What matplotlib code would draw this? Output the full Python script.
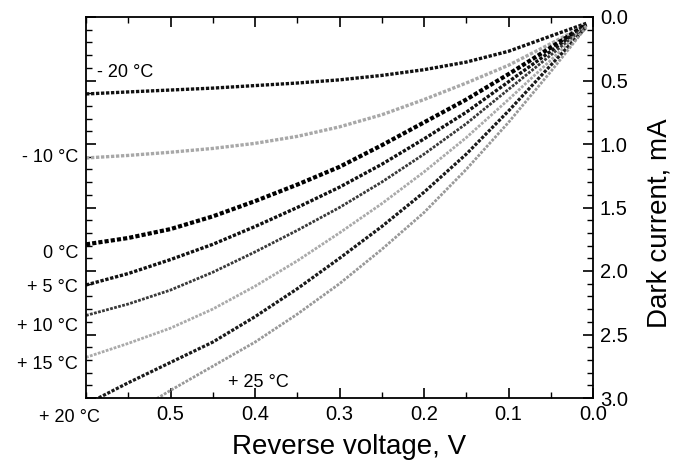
import matplotlib
matplotlib.use("Agg")
import matplotlib.pyplot as plt
from matplotlib.ticker import MultipleLocator

plt.rcParams['font.family'] = ['Liberation Sans', 'DejaVu Sans']

# Reverse voltage (V)
voltage = [0.60, 0.55, 0.50, 0.45, 0.40, 0.35, 0.30, 0.25, 0.20, 0.15, 0.10, 0.05, 0.008]

# Dark current (mA) for each temperature
i_m20 = [0.606, 0.59, 0.575, 0.56, 0.54, 0.52, 0.495, 0.46, 0.415, 0.355, 0.27, 0.15, 0.05]
i_m10 = [1.11, 1.09, 1.065, 1.035, 0.995, 0.94, 0.865, 0.77, 0.65, 0.52, 0.38, 0.21, 0.06]
i_0 = [1.79, 1.74, 1.67, 1.57, 1.45, 1.32, 1.18, 1.01, 0.83, 0.65, 0.45, 0.24, 0.06]
i_p5 = [2.11, 2.02, 1.91, 1.79, 1.65, 1.50, 1.34, 1.16, 0.96, 0.75, 0.51, 0.27, 0.06]
i_p10 = [2.35, 2.26, 2.15, 2.01, 1.85, 1.68, 1.50, 1.30, 1.08, 0.84, 0.57, 0.30, 0.07]
i_p15 = [2.68, 2.57, 2.45, 2.30, 2.12, 1.92, 1.70, 1.47, 1.22, 0.95, 0.65, 0.34, 0.07]
i_p20 = [3.05, 2.88, 2.72, 2.56, 2.36, 2.14, 1.90, 1.65, 1.38, 1.08, 0.74, 0.38, 0.08]
i_p25 = [3.35, 3.14, 2.94, 2.75, 2.56, 2.34, 2.10, 1.83, 1.54, 1.20, 0.83, 0.43, 0.08]

series = [i_m20, i_m10, i_0, i_p5, i_p10, i_p15, i_p20, i_p25]
colors = ['#111111', '#a8a8a8', '#000000', '#111111', '#3a3a3a', '#aaaaaa', '#1a1a1a', '#999999']
widths = [2.4, 2.4, 3.0, 2.4, 2.0, 2.0, 2.3, 2.0]

temp_labels = ['- 20 °C', '- 10 °C', '0 °C', '+ 5 °C', '+ 10 °C', '+ 15 °C', '+ 20 °C', '+ 25 °C']

fig = plt.figure(figsize=(6.85, 4.72), dpi=100)
ax = fig.add_axes([86/685, 74/472, 507/685, 381/472])

for vals, c, w in zip(series, colors, widths):
    ax.plot(voltage, vals, color=c, lw=w, linestyle=(0, (1.0, 0.5)))

ax.set_xlim(0.6, 0.0)
ax.set_ylim(3.0, 0.0)

ax.yaxis.tick_right()
ax.yaxis.set_label_position('right')
ax.yaxis.set_major_locator(MultipleLocator(0.5))
ax.yaxis.set_minor_locator(MultipleLocator(0.1))
ax.set_xticks([0.5, 0.4, 0.3, 0.2, 0.1, 0.0])
ax.set_xticks([0.6, 0.55, 0.45, 0.35, 0.25, 0.15, 0.05], minor=True)
ax.set_xticklabels(['0.5', '0.4', '0.3', '0.2', '0.1', '0.0'])
ax.tick_params(axis='both', which='major', direction='in', length=7, width=1.2,
               top=True, bottom=True, left=True, right=True, labelsize=14.5, pad=5)
ax.tick_params(axis='both', which='minor', direction='in', length=4, width=1.0,
               top=True, bottom=True, left=True, right=True)
ax.tick_params(axis='y', which='major', labelleft=False, labelright=True, pad=5)
for s in ax.spines.values():
    s.set_linewidth(1.3)

ax.set_xlabel('Reverse voltage, V', fontsize=20, labelpad=7)
ax.set_ylabel('Dark current, mA', fontsize=20, labelpad=13)
ax.xaxis.label.set_x(0.518)
ax.yaxis.label.set_y(0.46)

# temperature annotations
fs = 13
ax.text(0.587, 0.44, temp_labels[0], fontsize=fs, ha='left', va='center')
ax.text(0.6095, 1.11, temp_labels[1], fontsize=fs, ha='right', va='center', clip_on=False)
ax.text(0.6095, 1.86, temp_labels[2], fontsize=fs, ha='right', va='center', clip_on=False)
ax.text(0.6095, 2.13, temp_labels[3], fontsize=fs, ha='right', va='center', clip_on=False)
ax.text(0.6095, 2.44, temp_labels[4], fontsize=fs, ha='right', va='center', clip_on=False)
ax.text(0.6095, 2.74, temp_labels[5], fontsize=fs, ha='right', va='center', clip_on=False)
ax.text(0.5834, 3.15, temp_labels[6], fontsize=fs, ha='right', va='center', clip_on=False)
ax.text(0.432, 2.88, temp_labels[7], fontsize=fs, ha='left', va='center')

fig.savefig('out.png', dpi=100)
